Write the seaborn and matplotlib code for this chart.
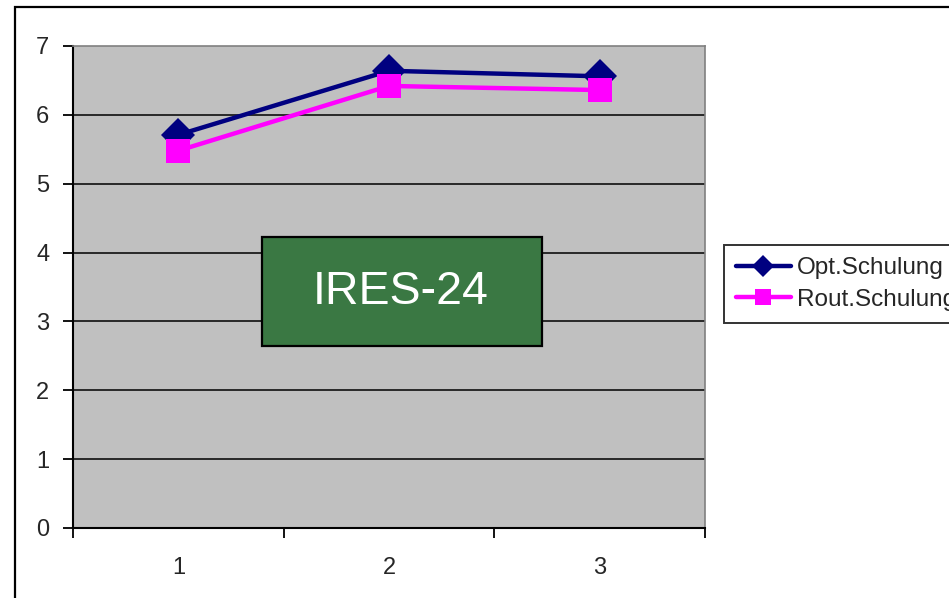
import matplotlib
matplotlib.use("Agg")
from matplotlib import pyplot as plt
from matplotlib.patches import Rectangle
import pandas as pd
import seaborn as sns

# values
messzeitpunkte = ["1", "2", "3"]
opt_schulung = [5.71, 6.64, 6.56]
rout_schulung = [5.48, 6.42, 6.36]
serien = ["Opt.Schulung", "Rout.Schulung"]
y_ticks = [0, 1, 2, 3, 4, 5, 6, 7]

df = pd.DataFrame({
    "Zeitpunkt": messzeitpunkte * 2,
    "Wert": opt_schulung + rout_schulung,
    "Gruppe": [serien[0]] * 3 + [serien[1]] * 3,
})

sns.set_style("white")
plt.rcParams["font.family"] = ["Liberation Sans", "DejaVu Sans"]

fig = plt.figure(figsize=(9.49, 5.98), dpi=100)
ax = fig.add_axes([73 / 949, 70 / 598, 632 / 949, 482 / 598])
ax.set_facecolor("#c0c0c0")

# outer chart frame (cut off on right/bottom like the reference)
fig.patches.append(Rectangle((15 / 949, -0.1), 1.2, 0.1 + 591 / 598, transform=fig.transFigure,
                             fill=False, edgecolor="black", linewidth=1.6))

for y in y_ticks[1:-1]:
    ax.axhline(y, color="black", linewidth=1.1, zorder=1)

sns.lineplot(data=df, x="Zeitpunkt", y="Wert", hue="Gruppe", style="Gruppe",
             palette={serien[0]: "#000080", serien[1]: "#ff00ff"},
             markers={serien[0]: "D", serien[1]: "s"}, dashes=False,
             markersize=17, linewidth=3.2, markeredgewidth=0, ax=ax, zorder=3)

ax.set_xlim(-0.5, 2.5)
ax.set_ylim(0, 7)
ax.set_yticks(y_ticks)
ax.set_xticks([-0.5, 0.5, 1.5, 2.5])
ax.set_xticklabels([])
ax.set_xticks([0, 1, 2], minor=True)
ax.set_xticklabels(messzeitpunkte, minor=True)
ax.tick_params(axis="x", which="major", length=7, width=1.3, color="black", direction="out", bottom=True)
ax.tick_params(axis="x", which="minor", length=0, pad=21, labelsize=17)
ax.tick_params(axis="y", length=7, width=1.3, color="black", direction="out", left=True, labelsize=17, pad=10)
ax.set_xlabel("")
ax.set_ylabel("")

for s in ["left", "bottom"]:
    ax.spines[s].set_color("black")
    ax.spines[s].set_linewidth(1.5)
for s in ["top", "right"]:
    ax.spines[s].set_color("#808080")
    ax.spines[s].set_linewidth(1.2)

# green label box
ax.add_patch(Rectangle((0.397, 2.643), 1.329, 1.583, facecolor="#3a7843",
                       edgecolor="black", linewidth=1.6, zorder=5))
ax.text(1.055, 3.43, "IRES-24", ha="center", va="center", fontsize=33.5, color="white", zorder=6)

leg = ax.legend(loc="upper left", bbox_to_anchor=(724 / 949, 1 - 245 / 598),
                bbox_transform=fig.transFigure, fontsize=17.5, frameon=True, fancybox=False,
                edgecolor="black", handlelength=2.25, labelspacing=0.4, borderpad=0.5,
                handletextpad=0.25, borderaxespad=0)
leg.get_frame().set_linewidth(1.4)
for h in leg.legend_handles:
    h.set_markersize(11)

fig.savefig("out.png", dpi=100)
